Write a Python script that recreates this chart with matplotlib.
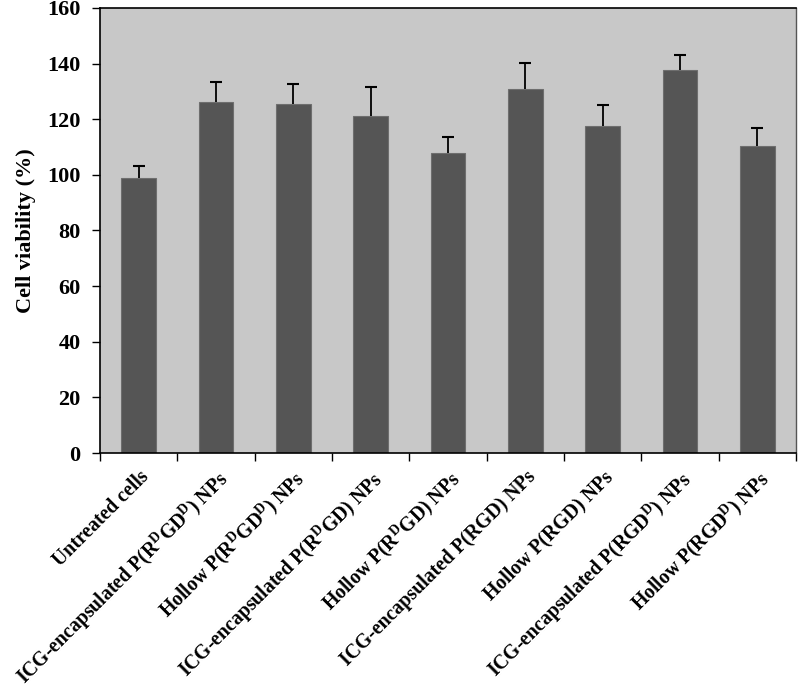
import numpy as np
import matplotlib
matplotlib.use("Agg")
import matplotlib.pyplot as plt
from matplotlib.ticker import FixedLocator

# --- Data ---
categories = [
    "Untreated cells",
    r"ICG-encapsulated P(R$^{\mathrm{D}}$GD$^{\mathrm{D}}$) NPs",
    r"Hollow P(R$^{\mathrm{D}}$GD$^{\mathrm{D}}$) NPs",
    r"ICG-encapsulated P(R$^{\mathrm{D}}$GD) NPs",
    r"Hollow P(R$^{\mathrm{D}}$GD) NPs",
    "ICG-encapsulated P(RGD) NPs",
    "Hollow P(RGD) NPs",
    r"ICG-encapsulated P(RGD$^{\mathrm{D}}$) NPs",
    r"Hollow P(RGD$^{\mathrm{D}}$) NPs",
]
viability = [98.8, 126.3, 125.3, 121.3, 108.0, 130.8, 117.4, 137.8, 110.2]
errors = [4.4, 7.0, 7.5, 10.2, 5.7, 9.5, 7.6, 5.3, 6.7]

plt.rcParams['font.family'] = ['Liberation Serif', 'DejaVu Serif']
plt.rcParams['font.weight'] = 'bold'
plt.rcParams['mathtext.fontset'] = 'custom'
plt.rcParams['mathtext.rm'] = 'Liberation Serif:bold'
plt.rcParams['mathtext.it'] = 'Liberation Serif:bold'
plt.rcParams['mathtext.bf'] = 'Liberation Serif:bold'

fig = plt.figure(figsize=(8, 6.93), dpi=100)
ax = fig.add_axes([0.125, 0.3463, 0.870, 0.6422])
ax.set_facecolor("#c8c8c8")

x = np.arange(len(categories))
tops = np.array(viability) + np.array(errors)
ax.bar(x, viability, width=0.45, color="#555555", edgecolor="#6e6e6e", linewidth=0.8, zorder=2)
# upward-only error bars
ax.vlines(x, viability, tops, color="black", linewidth=1.3, zorder=3)
ax.plot(x, tops, ls="none", marker="_", markersize=8, markeredgewidth=1.5, color="black", zorder=3)

ax.set_xlim(-0.5, len(categories) - 0.5)
ax.set_ylim(0, 160)
ax.set_yticks(np.arange(0, 161, 20))
ax.tick_params(axis='y', direction='out', length=6, width=1, labelsize=16, pad=8)

ax.set_xticks(x)
ax.set_xticklabels(categories, rotation=45, ha='right', rotation_mode='anchor', fontsize=14.2)
ax.tick_params(axis='x', which='major', length=0, pad=10)
ax.xaxis.set_minor_locator(FixedLocator(np.arange(-0.5, len(categories), 1)))
ax.tick_params(axis='x', which='minor', direction='out', length=6, width=1)

ax.set_ylabel("Cell viability (%)", fontsize=16, fontweight='bold', labelpad=8)

for side in ['left', 'bottom', 'top']:
    ax.spines[side].set_color('black')
    ax.spines[side].set_linewidth(1.2)
ax.spines['right'].set_color('#555555')
ax.spines['right'].set_linewidth(1.0)

fig.savefig("out.png", dpi=100)
